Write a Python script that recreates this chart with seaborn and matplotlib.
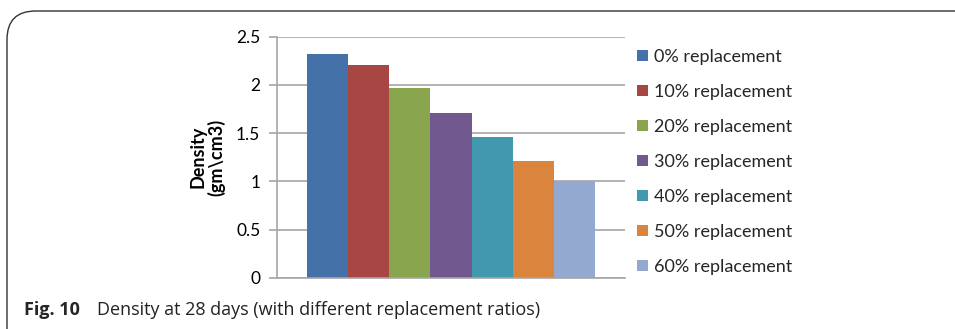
import matplotlib
matplotlib.use("Agg")
import matplotlib.pyplot as plt
from matplotlib.patches import FancyBboxPatch, Patch
import pandas as pd
import seaborn as sns

# Data
mixes = ["0% replacement", "10% replacement", "20% replacement", "30% replacement",
         "40% replacement", "50% replacement", "60% replacement"]
density = [2.32, 2.21, 1.97, 1.71, 1.46, 1.21, 1.00]
colors = ["#4472a8", "#a84643", "#89a54e", "#71588f", "#4298af", "#db843d", "#93a9cf"]
yticks = [0, 0.5, 1, 1.5, 2, 2.5]
ytick_labels = ["0", "0.5", "1", "1.5", "2", "2.5"]

df = pd.DataFrame({"age": ["28 days"] * len(mixes), "mix": mixes, "density": density})

sns.set_theme(style="white")
plt.rcParams["font.family"] = ["Lato", "DejaVu Sans"]

W, H = 955, 329
fig = plt.figure(figsize=(W / 100, H / 100), dpi=100)
ax = fig.add_axes([277 / W, 1 - 277.7 / H, (625 - 277) / W, (277.7 - 36.7) / H])

sns.barplot(data=df, x="age", y="density", hue="mix", hue_order=mixes,
            palette=colors, saturation=1, width=0.825, dodge=True,
            legend=False, ax=ax, linewidth=0, gap=0)

ax.set_xlim(-0.5, 0.5)
ax.set_ylim(0, 2.5)
ax.set_yticks(yticks)
ax.set_yticklabels(ytick_labels)
ax.set_xticks([])
ax.set_xlabel("")
ax.set_ylabel("Density\n(gm\\cm3)", fontsize=13, fontweight="bold", color="black",
              labelpad=8, linespacing=1.0)
ax.yaxis.grid(True, color="#a6a6a6", linewidth=1.2)
ax.set_axisbelow(True)
for side in ("top", "right"):
    ax.spines[side].set_visible(False)
for side in ("left", "bottom"):
    ax.spines[side].set_color("#a6a6a6")
    ax.spines[side].set_linewidth(1.2)
ax.tick_params(axis="y", which="major", left=True, length=6, width=1.2, color="#a6a6a6",
               labelsize=12.5, labelcolor="black", pad=6)

handles = [Patch(facecolor=c, edgecolor="none", label=m) for c, m in zip(colors, mixes)]
fig.legend(handles=handles, loc="upper left", bbox_to_anchor=(637 / W, 1 - 49 / H),
           frameon=False, fontsize=13, labelspacing=1.05, handlelength=0.62,
           handleheight=0.62, handletextpad=0.3, borderaxespad=0, borderpad=0)

# Caption
fig.text(24 / W, 1 - 310 / H, "Fig. 10", fontsize=13, fontweight="bold",
         family=["Open Sans", "DejaVu Sans"], va="center", ha="left")
fig.text(97 / W, 1 - 310 / H, "Density at 28 days (with different replacement ratios)",
         fontsize=13, family=["Open Sans", "DejaVu Sans"], va="center", ha="left",
         color="#222222")

# Rounded frame around the figure panel
frame = FancyBboxPatch((7 / W, -40 / H), 1.1, (40 + 318) / H,
                       boxstyle="round,pad=0,rounding_size=0.03",
                       transform=fig.transFigure, facecolor="none",
                       edgecolor="#333333", linewidth=1.0, mutation_aspect=W / H)
fig.patches.append(frame)

fig.savefig("out.png", dpi=100)
